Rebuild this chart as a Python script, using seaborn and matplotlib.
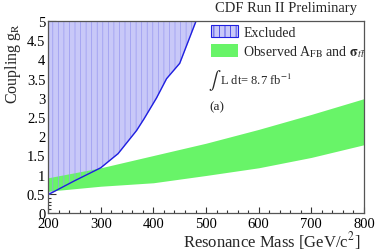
import numpy as np
import matplotlib
matplotlib.use("Agg")
import matplotlib.pyplot as plt
from matplotlib.ticker import MultipleLocator
from matplotlib.patches import Patch
import seaborn as sns

# excluded region boundary (coupling limit vs resonance mass)
excl_mass = [200, 250, 300, 333, 368, 382, 406, 425, 450, 481]
excl_coupling = [0.48, 0.84, 1.18, 1.55, 2.15, 2.45, 3.0, 3.5, 3.9, 5.0]

# observed A_FB and sigma_tt band
band_mass = [200, 300, 400, 500, 600, 700, 800]
band_low = [0.57, 0.70, 0.79, 0.98, 1.18, 1.45, 1.78]
band_high = [0.92, 1.18, 1.50, 1.82, 2.18, 2.57, 2.98]

sns.set_style("ticks")
plt.rcParams["font.family"] = ["Liberation Serif", "DejaVu Serif"]
plt.rcParams["mathtext.fontset"] = "stix"
plt.rcParams["hatch.linewidth"] = 0.5

fig = plt.figure(figsize=(3.88, 2.51), dpi=100)
ax = fig.add_axes([0.124, 0.147, 0.814, 0.765])

green = "#68f468"
blue_fill = "#c8c8f8"

ax.fill_between(excl_mass, excl_coupling, 5, color=blue_fill, lw=0, zorder=1)
ax.fill_between(band_mass, band_low, band_high, color=green, lw=0, zorder=2)
ax.fill_between(excl_mass, excl_coupling, 5, facecolor="none", edgecolor="#9898f0",
                hatch="|||", lw=0, zorder=3)
sns.lineplot(x=excl_mass, y=excl_coupling, color="#1f1fe0", lw=1.0, ax=ax, zorder=4)

ax.set_xlim(200, 800)
ax.set_ylim(0, 5)
ax.xaxis.set_major_locator(MultipleLocator(100))
ax.xaxis.set_minor_locator(MultipleLocator(20))
ax.yaxis.set_major_locator(MultipleLocator(0.5))
ax.yaxis.set_minor_locator(MultipleLocator(0.1))
ax.yaxis.set_major_formatter(matplotlib.ticker.FuncFormatter(lambda v, p: f"{v:g}"))
ax.tick_params(which="major", direction="in", length=6, width=0.8, labelsize=10.5, colors="#333333",
               labelcolor="black")
ax.tick_params(axis="x", which="major", length=4.5, pad=2.5)
ax.tick_params(axis="y", which="major", pad=2)
ax.tick_params(which="minor", direction="in", length=2.5, width=0.8, colors="#333333")
for s in ax.spines.values():
    s.set_color("#555555")
    s.set_linewidth(0.9)
    s.set_zorder(5)

ax.set_xlabel("Resonance Mass [GeV/c$^{2}$]", fontsize=12, loc="right")
ax.xaxis.set_label_coords(0.99, -0.085)
ax.set_ylabel("Coupling g$_{\\mathrm{R}}$", fontsize=11.5, loc="top")
ax.yaxis.set_label_coords(-0.078, 0.995)

fig.text(0.92, 0.965, "CDF Run II Preliminary", fontsize=10.5, ha="right", va="center")

handles = [Patch(facecolor=blue_fill, edgecolor="#1f1fe0", hatch="|||", lw=0.8),
           Patch(facecolor=green, edgecolor="none")]
labels = ["Excluded", "Observed A$_{\\mathrm{FB}}$ and $\\mathbf{\\sigma}_{t\\bar{t}}$"]
ax.legend(handles, labels, loc="upper left", bbox_to_anchor=(0.49, 1.025), frameon=False,
          fontsize=10, handlelength=1.9, handleheight=1.0, labelspacing=0.35,
          handletextpad=0.4, borderaxespad=0.2)

ax.text(0.505, 0.695, "$\\int$", transform=ax.transAxes, fontsize=13,
        va="center", ha="left")
ax.text(0.545, 0.695, "L dt= 8.7 fb$^{-1}$", transform=ax.transAxes, fontsize=9,
        va="center", ha="left")
ax.text(0.51, 0.555, "(a)", transform=ax.transAxes, fontsize=9.5, va="center", ha="left")

fig.savefig("out.png", dpi=100)
